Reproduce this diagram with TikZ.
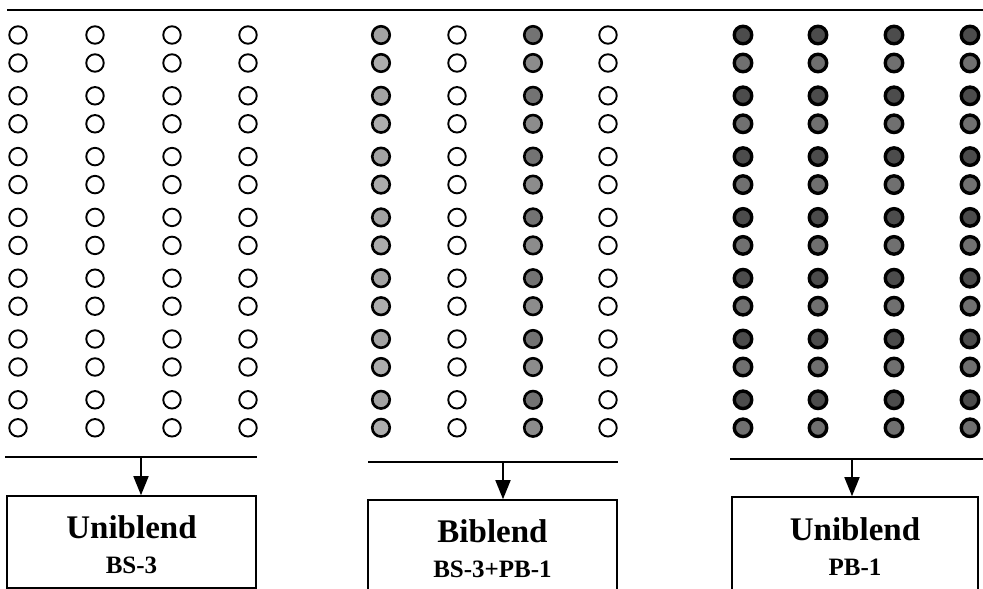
\documentclass[tikz,border=0pt]{standalone}
\usepackage{fontspec}
\setmainfont{Liberation Serif}
\usetikzlibrary{arrows.meta}
\begin{document}
\begin{tikzpicture}[x=1pt,y=-1pt,
  ring/.style={circle,draw=black,inner sep=0pt,minimum size=17.5pt},
  emptyring/.style={ring,fill=white,line width=1.9pt},
  midring/.style={ring,line width=2.6pt},
  darkring/.style={ring,line width=3.4pt},
  rule/.style={line width=2.6pt},
  barline/.style={line width=2pt},
  blendbox/.style={draw=black,line width=1.6pt,fill=white,inner sep=0pt},
  arr/.style={line width=1.7pt,-{Triangle[length=19pt,width=15pt]}},
  bigtext/.style={font=\bfseries\fontsize{33}{33}\selectfont,inner sep=0pt,anchor=base},
  smalltext/.style={font=\bfseries\fontsize{25}{25}\selectfont,inner sep=0pt,anchor=base}
]
\clip (0,0) rectangle (983,589);
\fill[white] (0,0) rectangle (983,589);

% top rule
\coordinate (topL) at (7,10);
\coordinate (topR) at (985,10);
\draw[rule] (topL) -- (topR);

% rows of fibres
\foreach \k in {0,...,6}{
  \foreach \j in {0,1}{
    \pgfmathsetmacro{\yy}{35+60.8*\k+28*\j}
    \pgfmathtruncatemacro{\r}{2*\k+\j+1}
    \pgfmathtruncatemacro{\ma}{36-4*\j}
    \pgfmathtruncatemacro{\mb}{55-10*\j}
    \pgfmathtruncatemacro{\rf}{70-14*\j}
    \foreach \x [count=\c] in {18,95,172,248}{
      \node[emptyring] (L\c-\r) at (\x,\yy) {};
    }
    \node[midring,fill=black!\ma] (M1-\r) at (381,\yy) {};
    \node[emptyring] (M2-\r) at (457,\yy) {};
    \node[midring,fill=black!\mb] (M3-\r) at (533,\yy) {};
    \node[emptyring] (M4-\r) at (608,\yy) {};
    \foreach \x [count=\c] in {743,818,894,970}{
      \node[darkring,fill=black!\rf] (R\c-\r) at (\x,\yy) {};
    }
  }
}

% boxes
\node[blendbox,minimum width=249pt,minimum height=92pt] (box1) at (131.5,542) {};
\node[blendbox,minimum width=249pt,minimum height=100pt] (box2) at (492.5,550) {};
\node[blendbox,minimum width=246pt,minimum height=100pt] (box3) at (855,547) {};

\node[bigtext] (t1a) at (131.5,538) {Uniblend};
\node[smalltext] (t1b) at (131.5,573) {BS-3};
\node[bigtext] (t2a) at (492.5,542) {Biblend};
\node[smalltext] (t2b) at (492.5,577) {BS-3+PB-1};
\node[bigtext] (t3a) at (855,540) {Uniblend};
\node[smalltext] (t3b) at (855,575) {PB-1};

% collecting bars and arrows
\coordinate (b1L) at (5,457);   \coordinate (b1R) at (257,457); \coordinate (a1) at (141,457);
\coordinate (b2L) at (368,462); \coordinate (b2R) at (618,462); \coordinate (a2) at (503,462);
\coordinate (b3L) at (730,459); \coordinate (b3R) at (985,459); \coordinate (a3) at (852,459);
\draw[barline] (b1L) -- (b1R);
\draw[barline] (b2L) -- (b2R);
\draw[barline] (b3L) -- (b3R);
\draw[arr] (a1) -- (a1 |- box1.north);
\draw[arr] (a2) -- (a2 |- box2.north);
\draw[arr] (a3) -- (a3 |- box3.north);
\end{tikzpicture}
\end{document}
